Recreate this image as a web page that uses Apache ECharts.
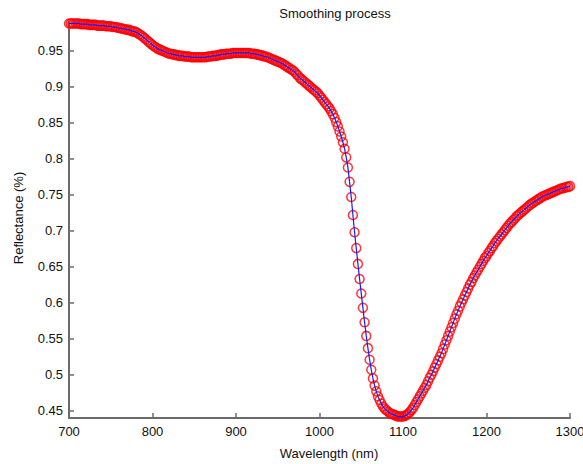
<!DOCTYPE html>
<html>
<head>
<meta charset="utf-8">
<script src="https://cdn.jsdelivr.net/npm/echarts@6/dist/echarts.min.js"></script>
<style>html,body{margin:0;padding:0;background:#fff}#c{width:583px;height:464px}</style>
</head>
<body>
<div id="c"></div>
<script>
var wavelengths = [
700,702,704,706,708,710,712,714,716,718,
720,722,724,726,728,730,732,734,736,738,
740,742,744,746,748,750,752,754,756,758,
760,762,764,766,768,770,772,774,776,778,
780,782,784,786,788,790,792,794,796,798,
800,802,804,806,808,810,812,814,816,818,
820,822,824,826,828,830,832,834,836,838,
840,842,844,846,848,850,852,854,856,858,
860,862,864,866,868,870,872,874,876,878,
880,882,884,886,888,890,892,894,896,898,
900,902,904,906,908,910,912,914,916,918,
920,922,924,926,928,930,932,934,936,938,
940,942,944,946,948,950,952,954,956,958,
960,962,964,966,968,970,972,974,976,978,
980,982,984,986,988,990,992,994,996,998,
1000,1002,1004,1006,1008,1010,1012,1014,1016,1018,
1020,1022,1024,1026,1028,1030,1032,1034,1036,1038,
1040,1042,1044,1046,1048,1050,1052,1054,1056,1058,
1060,1062,1064,1066,1068,1070,1072,1074,1076,1078,
1080,1082,1084,1086,1088,1090,1092,1094,1096,1098,
1100,1102,1104,1106,1108,1110,1112,1114,1116,1118,
1120,1122,1124,1126,1128,1130,1132,1134,1136,1138,
1140,1142,1144,1146,1148,1150,1152,1154,1156,1158,
1160,1162,1164,1166,1168,1170,1172,1174,1176,1178,
1180,1182,1184,1186,1188,1190,1192,1194,1196,1198,
1200,1202,1204,1206,1208,1210,1212,1214,1216,1218,
1220,1222,1224,1226,1228,1230,1232,1234,1236,1238,
1240,1242,1244,1246,1248,1250,1252,1254,1256,1258,
1260,1262,1264,1266,1268,1270,1272,1274,1276,1278,
1280,1282,1284,1286,1288,1290,1292,1294,1296,1298,
1300];

var reflectance = [
0.988,0.988,0.988,0.988,0.988,0.988,0.988,0.987,0.987,0.987,
0.987,0.987,0.986,0.986,0.986,0.986,0.986,0.985,0.985,0.985,
0.985,0.985,0.984,0.984,0.984,0.984,0.983,0.983,0.983,0.982,
0.982,0.981,0.981,0.980,0.980,0.979,0.979,0.978,0.977,0.977,
0.976,0.975,0.973,0.972,0.970,0.968,0.966,0.964,0.962,0.960,
0.958,0.956,0.955,0.953,0.952,0.951,0.950,0.949,0.948,0.947,
0.946,0.946,0.945,0.945,0.944,0.944,0.943,0.943,0.943,0.942,
0.942,0.942,0.942,0.941,0.941,0.941,0.941,0.941,0.941,0.941,
0.941,0.941,0.941,0.942,0.942,0.942,0.943,0.943,0.943,0.944,
0.944,0.945,0.945,0.945,0.946,0.946,0.946,0.946,0.947,0.947,
0.947,0.947,0.947,0.947,0.947,0.947,0.947,0.947,0.947,0.946,
0.946,0.946,0.945,0.945,0.944,0.944,0.943,0.942,0.942,0.941,
0.940,0.939,0.938,0.937,0.936,0.935,0.934,0.933,0.932,0.930,
0.929,0.927,0.926,0.924,0.923,0.921,0.918,0.916,0.913,0.911,
0.909,0.907,0.905,0.903,0.901,0.899,0.897,0.895,0.893,0.891,
0.888,0.885,0.882,0.879,0.876,0.873,0.870,0.866,0.862,0.857,
0.851,0.845,0.838,0.831,0.823,0.814,0.802,0.788,0.768,0.747,
0.722,0.698,0.676,0.654,0.633,0.613,0.593,0.573,0.554,0.537,
0.521,0.507,0.495,0.485,0.477,0.470,0.465,0.460,0.456,0.453,
0.451,0.449,0.447,0.446,0.445,0.444,0.443,0.442,0.442,0.442,
0.442,0.443,0.444,0.446,0.448,0.451,0.454,0.458,0.462,0.466,
0.470,0.474,0.478,0.482,0.486,0.491,0.496,0.500,0.505,0.510,
0.515,0.520,0.525,0.530,0.536,0.542,0.548,0.554,0.560,0.566,
0.572,0.578,0.584,0.589,0.595,0.600,0.605,0.610,0.615,0.620,
0.625,0.629,0.634,0.638,0.642,0.646,0.650,0.654,0.658,0.662,
0.665,0.669,0.672,0.676,0.679,0.683,0.686,0.689,0.692,0.695,
0.698,0.701,0.704,0.707,0.710,0.712,0.715,0.717,0.720,0.722,
0.724,0.726,0.728,0.730,0.732,0.734,0.736,0.738,0.739,0.741,
0.742,0.744,0.745,0.747,0.748,0.749,0.750,0.751,0.752,0.753,
0.754,0.755,0.756,0.757,0.758,0.759,0.759,0.760,0.761,0.761,
0.762];

var xTicks = [700, 800, 900, 1000, 1100, 1200, 1300];
var yTicks = [0.45, 0.5, 0.55, 0.6, 0.65, 0.7, 0.75, 0.8, 0.85, 0.9, 0.95];

var titleText = 'Smoothing process';
var xName = 'Wavelength (nm)';
var yName = 'Reflectance (%)';

var points = wavelengths.map(function (w, i) { return [w, reflectance[i]]; });

var FONT = '"Liberation Sans", Arial, Helvetica, sans-serif';
var AXIS_COLOR = '#6b6b6b';

var chart = echarts.init(document.getElementById('c'), null, { renderer: 'svg' });
chart.setOption({
  animation: false,
  backgroundColor: '#ffffff',
  grid: { left: 69, right: 13, top: 22, bottom: 46, containLabel: false, outerBoundsMode: 'none' },
  xAxis: {
    type: 'value', min: 700, max: 1300,
    axisLine: { show: true, lineStyle: { color: AXIS_COLOR, width: 2 } },
    axisTick: { show: true, inside: true, length: 5, customValues: xTicks, lineStyle: { color: AXIS_COLOR, width: 1.5 } },
    axisLabel: { customValues: xTicks, margin: 7, color: '#111', fontSize: 13, fontFamily: FONT,
      formatter: function (v) { return String(v); }, hideOverlap: false },
    splitLine: { show: false }
  },
  yAxis: {
    type: 'value', min: 0.44, max: 0.99,
    axisLine: { show: true, lineStyle: { color: AXIS_COLOR, width: 2 } },
    axisTick: { show: true, inside: true, length: 5, customValues: yTicks, lineStyle: { color: AXIS_COLOR, width: 1.5 } },
    axisLabel: { customValues: yTicks, margin: 6, color: '#111', fontSize: 13, fontFamily: FONT,
      formatter: function (v) { return String(v); } },
    splitLine: { show: false }
  },
  graphic: [
    { type: 'text', x: 335, y: 13, style: { text: titleText, font: '13px ' + FONT, fill: '#111', align: 'center', verticalAlign: 'middle' } },
    { type: 'text', x: 329, y: 453, style: { text: xName, font: '13px ' + FONT, fill: '#111', align: 'center', verticalAlign: 'middle' } },
    { type: 'text', x: 18, y: 218, rotation: Math.PI / 2, style: { text: yName, font: '13px ' + FONT, fill: '#111', align: 'center', verticalAlign: 'middle' } }
  ],
  series: [
    {
      type: 'scatter', data: points, symbol: 'circle', symbolSize: 9, clip: false, z: 2,
      itemStyle: { color: 'rgba(0,0,0,0)', borderColor: '#ff0000', borderWidth: 1.5 },
      emphasis: { disabled: true }
    },
    {
      type: 'line', data: points, showSymbol: false, symbol: 'none', clip: false, z: 3,
      lineStyle: { color: '#1a1aff', width: 1.2 },
      emphasis: { disabled: true }
    }
  ]
});
</script>
</body>
</html>
